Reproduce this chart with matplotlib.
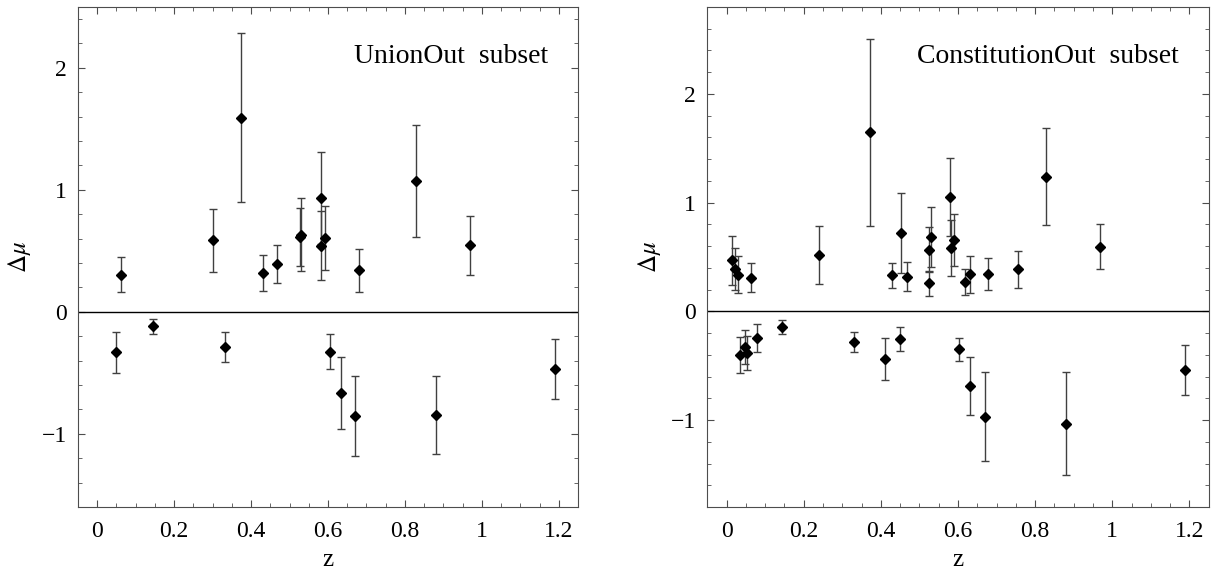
import matplotlib
matplotlib.use('Agg')
from matplotlib import pyplot as plt
from matplotlib.ticker import MultipleLocator, FuncFormatter

plt.rcParams['font.family'] = ['Liberation Serif', 'DejaVu Serif']
plt.rcParams['mathtext.fontset'] = 'stix'

# UnionOut subset
union_z = [0.063, 0.302, 0.375, 0.430, 0.468, 0.527, 0.531, 0.582, 0.582, 0.591,
           0.680, 0.830, 0.970,
           0.050, 0.145, 0.332, 0.604, 0.633, 0.671, 0.881, 1.191]
union_dmu = [0.306, 0.587, 1.593, 0.319, 0.393, 0.614, 0.633, 0.933, 0.543, 0.606,
             0.339, 1.075, 0.546,
             -0.333, -0.120, -0.286, -0.327, -0.668, -0.853, -0.845, -0.466]
union_err = [0.145, 0.26, 0.69, 0.145, 0.157, 0.235, 0.30, 0.376, 0.28, 0.265,
             0.175, 0.458, 0.24,
             0.167, 0.06, 0.123, 0.142, 0.296, 0.33, 0.323, 0.245]

# ConstitutionOut subset
const_z = [0.015, 0.022, 0.030, 0.063, 0.240, 0.373, 0.429, 0.452, 0.468, 0.525,
           0.525, 0.530, 0.580, 0.581, 0.590, 0.619, 0.632, 0.679, 0.755, 0.828, 0.969,
           0.036, 0.048, 0.053, 0.079, 0.144, 0.330, 0.410, 0.450, 0.603, 0.632,
           0.670, 0.880, 1.189]
const_dmu = [0.469, 0.389, 0.337, 0.310, 0.521, 1.648, 0.331, 0.720, 0.319, 0.260,
             0.567, 0.687, 1.051, 0.582, 0.659, 0.269, 0.340, 0.343, 0.386, 1.238, 0.595,
             -0.401, -0.328, -0.380, -0.245, -0.144, -0.282, -0.435, -0.255, -0.349, -0.686,
             -0.971, -1.032, -0.536]
const_err = [0.228, 0.19, 0.17, 0.13, 0.267, 0.86, 0.115, 0.37, 0.13, 0.115,
             0.21, 0.276, 0.36, 0.254, 0.24, 0.12, 0.172, 0.15, 0.17, 0.445, 0.21,
             0.167, 0.157, 0.156, 0.128, 0.067, 0.088, 0.193, 0.108, 0.108, 0.27,
             0.41, 0.47, 0.23]

panels = [
    (union_z, union_dmu, union_err, 'UnionOut  subset', (-1.6, 2.5), [0.0638, 0.1167, 0.4092, 0.8713]),
    (const_z, const_dmu, const_err, 'ConstitutionOut  subset', (-1.8, 2.8), [0.5788, 0.1167, 0.4103, 0.8713]),
]

fmt = FuncFormatter(lambda v, p: ('%g' % v).replace('-', '\u2212'))

fig = plt.figure(figsize=(12.22, 5.74), dpi=100)
for z, dmu, err, label, ylim, pos in panels:
    ax = fig.add_axes(pos)
    ax.axhline(0, color='black', lw=1)
    ax.errorbar(z, dmu, yerr=err, fmt='D', color='black', ms=5.5,
                ecolor='0.25', elinewidth=1, capsize=3, capthick=1)
    ax.set_xlim(-0.05, 1.25)
    ax.set_ylim(*ylim)
    ax.xaxis.set_major_locator(MultipleLocator(0.2))
    ax.xaxis.set_minor_locator(MultipleLocator(0.05))
    ax.yaxis.set_major_locator(MultipleLocator(1))
    ax.yaxis.set_minor_locator(MultipleLocator(0.2))
    ax.xaxis.set_major_formatter(fmt)
    ax.yaxis.set_major_formatter(fmt)
    ax.tick_params(which='both', direction='in', top=True, right=True, labelsize=17, color='0.3')
    ax.tick_params(which='major', length=5, pad=8)
    ax.tick_params(axis='x', which='major', pad=10)
    ax.tick_params(which='minor', length=3)
    for s in ax.spines.values():
        s.set_color('0.3')
    ax.set_xlabel('z', fontsize=18, labelpad=5)
    ax.set_ylabel(r'$\Delta\mu$', fontsize=18, labelpad=6)
    ax.text(0.94, 0.9, label, transform=ax.transAxes, ha='right', va='center', fontsize=20)

fig.savefig('out.png', dpi=100)
